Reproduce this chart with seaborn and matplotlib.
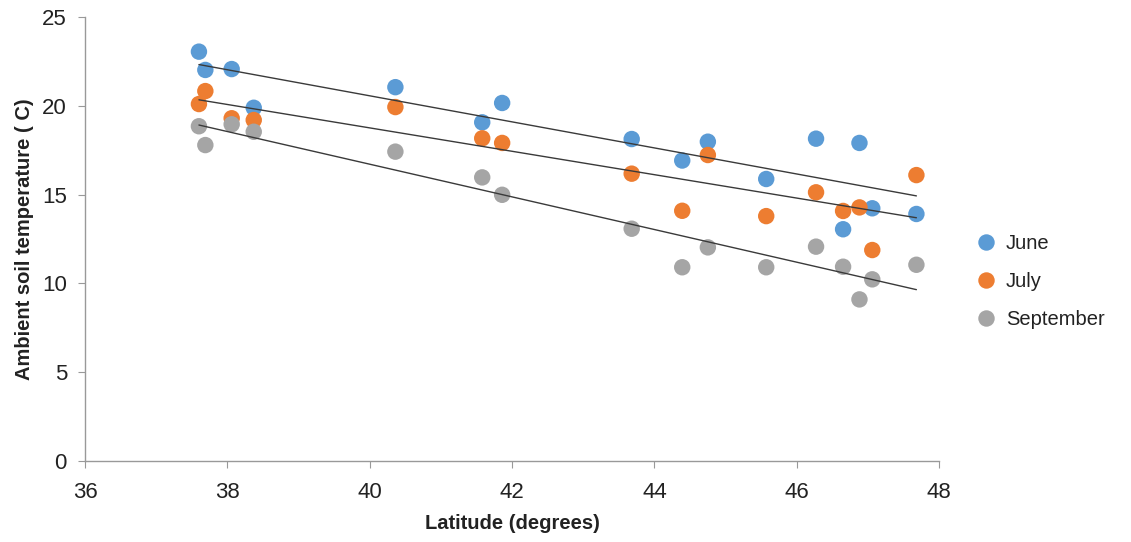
import numpy as np
import pandas as pd
import matplotlib
matplotlib.use("Agg")
import matplotlib.pyplot as plt
import seaborn as sns

latitude = [37.60, 37.69, 38.06, 38.37, 40.36, 41.58, 41.86, 43.68,
            44.39, 44.75, 45.57, 46.27, 46.65, 46.88, 47.06, 47.68]
june = [23.05, 22.02, 22.07, 19.89, 21.05, 19.07, 20.16, 18.13,
        16.92, 17.98, 15.88, 18.15, 13.05, 17.91, 14.23, 13.91]
july = [20.10, 20.83, 19.30, 19.20, 19.93, 18.17, 17.91, 16.18,
        14.09, 17.23, 13.79, 15.13, 14.08, 14.28, 11.88, 16.10]
september = [18.85, 17.79, 18.96, 18.54, 17.42, 15.97, 14.99, 13.08,
             10.91, 12.03, 10.91, 12.07, 10.94, 9.10, 10.23, 11.05]
months = ["June", "July", "September"]
colors = ["#5B9BD5", "#ED7D31", "#A5A5A5"]

df = pd.DataFrame({
    "Latitude": latitude * 3,
    "Temp": june + july + september,
    "Month": [m for m in months for _ in latitude],
})

sns.set_style("white")
plt.rcParams["font.family"] = ["Liberation Sans", "DejaVu Sans"]

fig = plt.figure(figsize=(11.31, 5.42), dpi=100)
ax = fig.add_axes([0.0752, 0.1494, 0.7552, 0.8192])

sns.scatterplot(data=df, x="Latitude", y="Temp", hue="Month",
                palette=dict(zip(months, colors)), s=140,
                edgecolor="none", alpha=1.0, ax=ax, zorder=2)

for m in months:
    sub = df[df["Month"] == m]
    sns.regplot(data=sub, x="Latitude", y="Temp", scatter=False, ci=None,
                truncate=True, ax=ax,
                line_kws={"color": "#3a3a3a", "lw": 1.0, "zorder": 3})

ax.set_xlim(36, 48)
ax.set_ylim(0, 25)
ax.set_xticks(range(36, 49, 2))
ax.set_yticks(range(0, 26, 5))
ax.tick_params(axis="both", labelsize=16, colors="#222222", length=5,
               width=0.8, direction="out", bottom=True, left=True)
ax.tick_params(axis="x", pad=10)
ax.tick_params(axis="y", pad=8)
ax.tick_params(axis="both", color="#999999")
for side in ["top", "right"]:
    ax.spines[side].set_visible(False)
for side in ["left", "bottom"]:
    ax.spines[side].set_color("#999999")
    ax.spines[side].set_linewidth(1.0)

ax.set_xlabel("Latitude (degrees)", fontsize=14.5, fontweight="bold",
              color="#222222", labelpad=8)
ax.set_ylabel("Ambient soil temperature ( C)", fontsize=14.5,
              fontweight="bold", color="#222222", labelpad=6)

handles, labels = ax.get_legend_handles_labels()
for h in handles:
    try:
        h.set_sizes([75])
    except Exception:
        pass
leg = ax.legend(handles, labels, loc="center left",
                bbox_to_anchor=(1.01, 0.405), frameon=False, fontsize=14.5,
                handletextpad=0.0, labelspacing=0.95, markerscale=1.0)
for t in leg.get_texts():
    t.set_color("#222222")

fig.savefig("out.png", dpi=100)
